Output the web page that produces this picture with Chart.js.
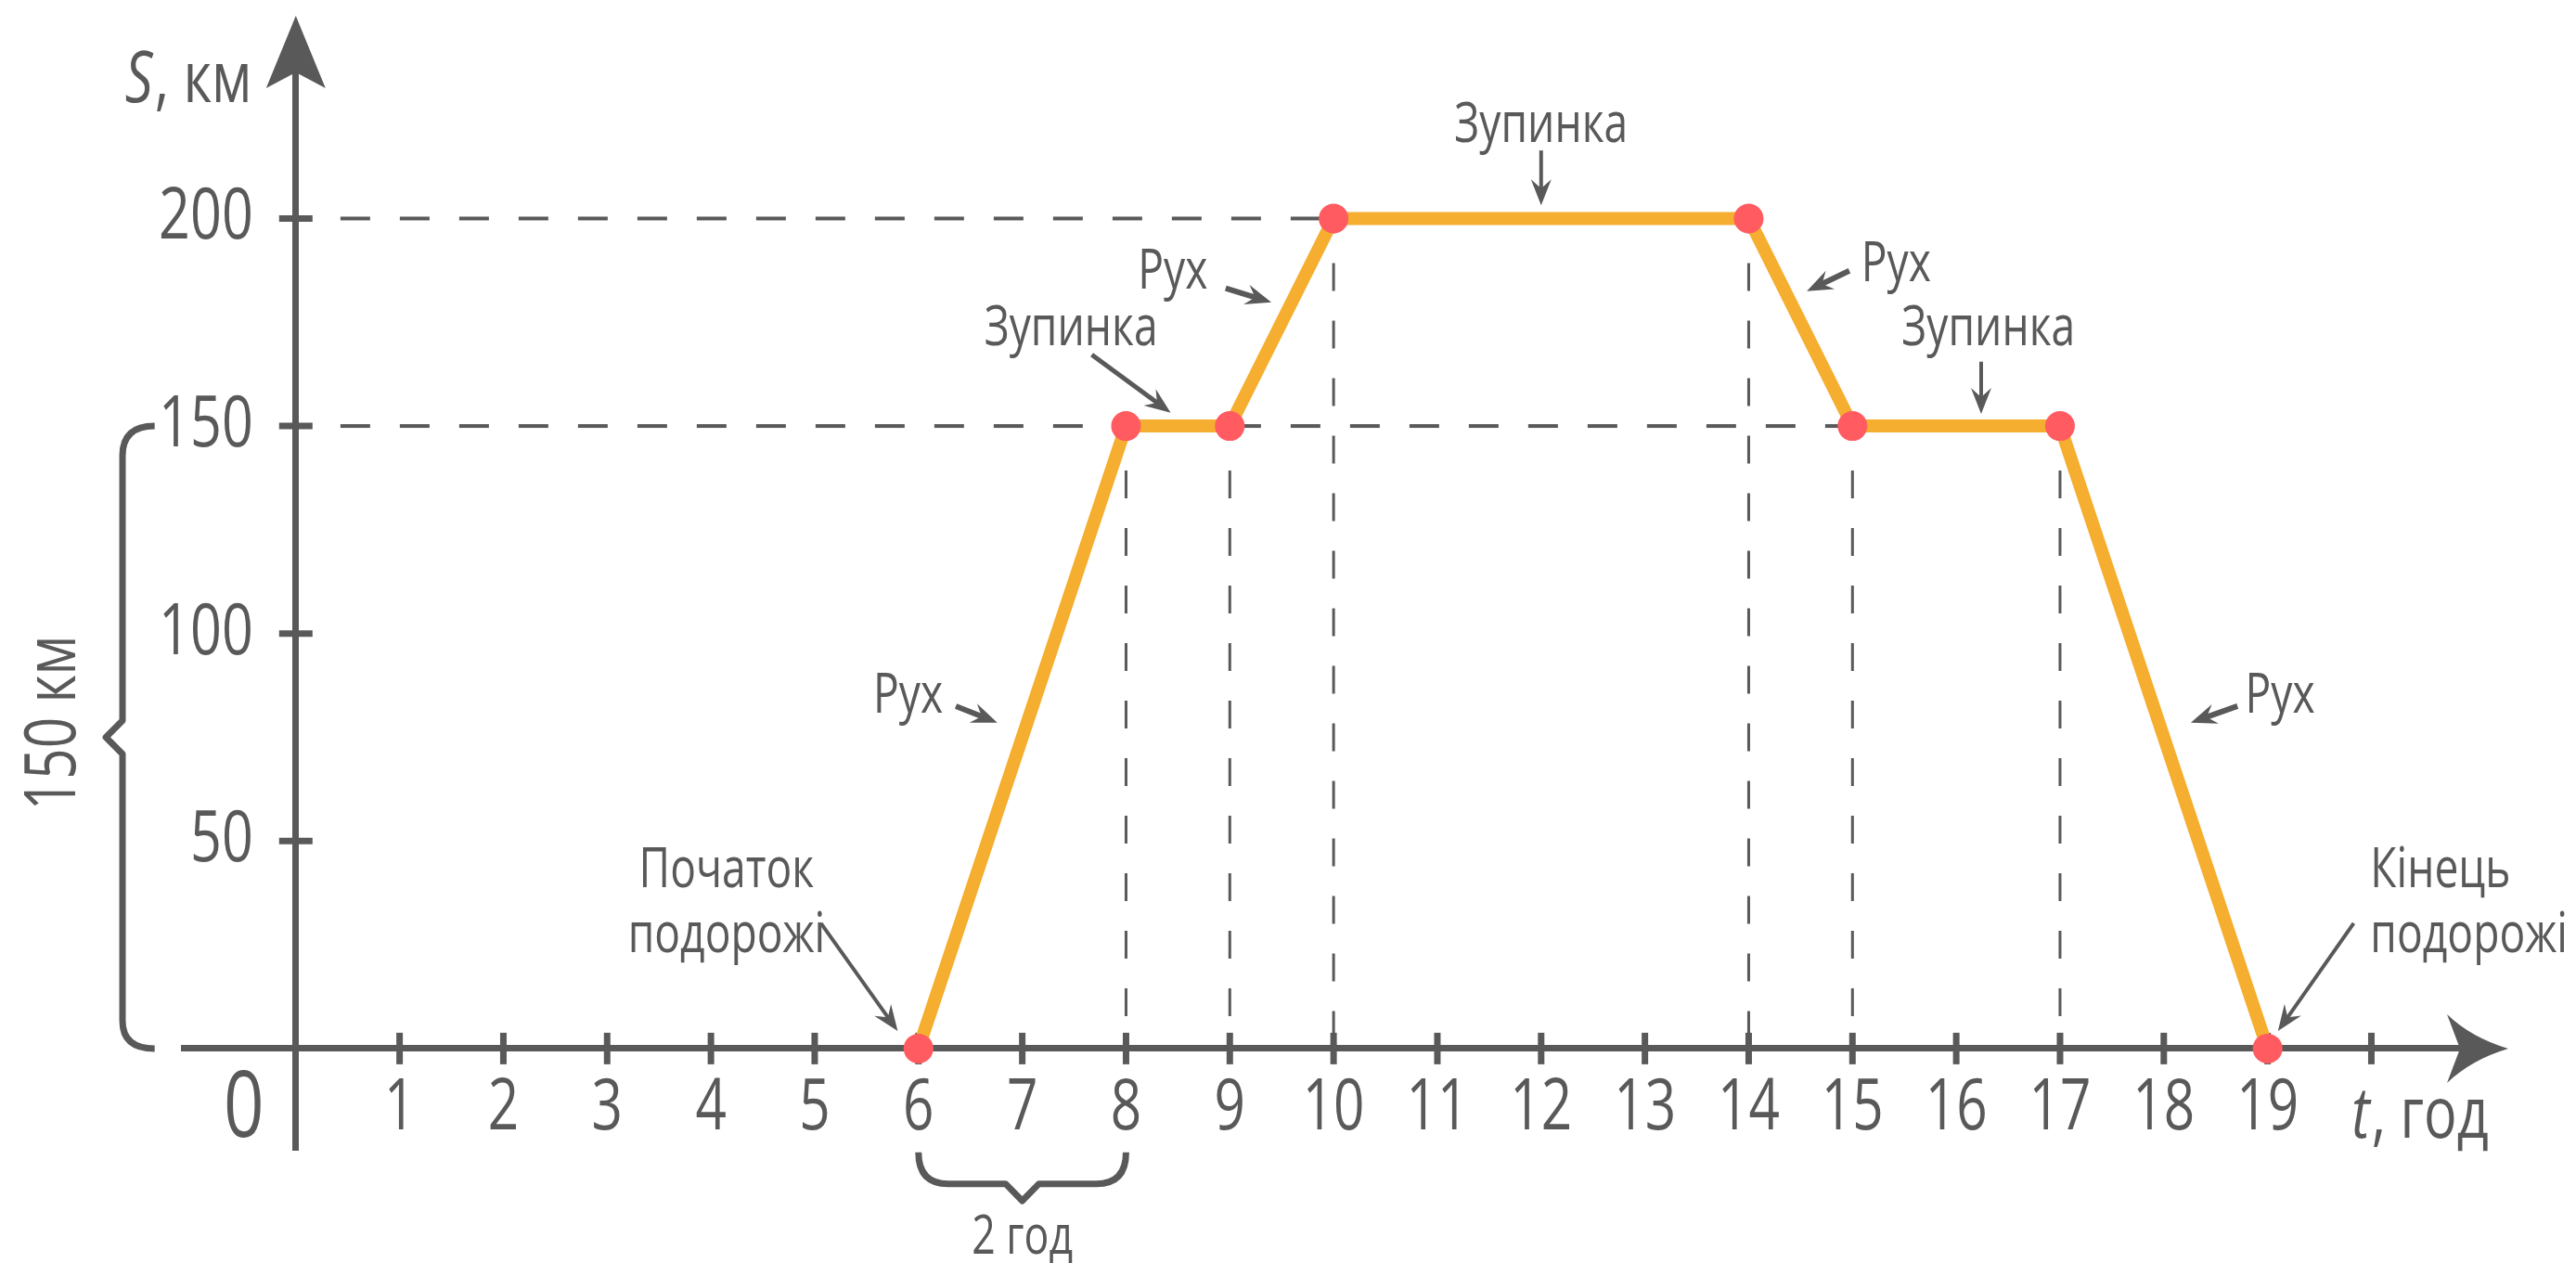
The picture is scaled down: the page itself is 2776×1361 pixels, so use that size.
<!DOCTYPE html>
<html>
<head>
<meta charset="utf-8">
<script src="https://cdn.jsdelivr.net/npm/chart.js@4.4.1/dist/chart.umd.min.js"></script>
<style>
  html, body { margin: 0; padding: 0; background: #fff; overflow: hidden; }
  #wrap { width: 2776px; height: 1361px; }
</style>
</head>
<body>
<div id="wrap"><canvas id="tripChart"></canvas></div>
<script>
// trip data: time (h) and distance (km)
const tripHours = [6, 8, 9, 10, 14, 15, 17, 19];
const tripKm = [0, 150, 150, 200, 200, 150, 150, 0];

// axis ticks
const xTicks = [1, 2, 3, 4, 5, 6, 7, 8, 9, 10, 11, 12, 13, 14, 15, 16, 17, 18, 19, 20];
const yTicks = [50, 100, 150, 200];

// dashed guides
const levelKm = [200, 150];
const levelEndHour = [10, 15];
const guideHours = [8, 9, 10, 14, 15, 17];
const guideKm = [150, 150, 200, 200, 150, 150];

const GRAY = "#595959";
const ORANGE = "#f5ae2f";
const RED = "#ff5b60";
const FONT = "'Open Sans', 'DejaVu Sans', sans-serif";
const NARROW = 0.77; // the original lettering is a condensed face

// labels and pointer arrows, placed in data units
const notes = [
  { lines: ["Зупинка"], x: 12, y: 218.5, align: "center" },
  { lines: ["Рух"], x: 8.45, y: 183, align: "center" },
  { lines: ["Зупинка"], x: 7.47, y: 169.5, align: "center" },
  { lines: ["Рух"], x: 15.42, y: 185, align: "center" },
  { lines: ["Зупинка"], x: 16.31, y: 169.5, align: "center" },
  { lines: ["Рух"], x: 5.9, y: 81, align: "center" },
  { lines: ["Рух"], x: 19.12, y: 81, align: "center" },
  { lines: ["Початок", "подорожі"], x: 4.15, y: 38.9, align: "center" },
  { lines: ["Кінець", "подорожі"], x: 19.99, y: 38.9, align: "left" }
];
const pointers = [
  [12, 216.4, 12, 203.2, 4],
  [8.96, 183.2, 9.4, 179.8, 6],
  [7.67, 167.2, 8.43, 153.2, 5],
  [14.97, 187.4, 14.56, 182.5, 6],
  [16.24, 165.5, 16.24, 152.9, 4],
  [6.36, 82.5, 6.76, 78.5, 6],
  [18.71, 82.5, 18.26, 78.5, 6],
  [5.06, 30.2, 5.8, 4.2, 4],
  [19.83, 30.2, 19.1, 4.2, 4]
];

function narrowText(ctx, s, x, y, size, align, style) {
  ctx.save();
  ctx.font = (style || "") + " " + size + "px " + FONT;
  ctx.textAlign = align;
  ctx.translate(x, y);
  ctx.scale(NARROW, 1);
  ctx.fillText(s, 0, 0);
  ctx.restore();
}

function narrowWidth(ctx, s, size, style) {
  ctx.font = (style || "") + " " + size + "px " + FONT;
  return ctx.measureText(s).width * NARROW;
}

function arrow(ctx, x1, y1, x2, y2, w, len, half) {
  const a = Math.atan2(y2 - y1, x2 - x1);
  const c = Math.cos(a), s = Math.sin(a);
  ctx.save();
  ctx.strokeStyle = GRAY;
  ctx.fillStyle = GRAY;
  ctx.lineWidth = w;
  ctx.beginPath();
  ctx.moveTo(x1, y1);
  ctx.lineTo(x2 - c * len * 0.6, y2 - s * len * 0.6);
  ctx.stroke();
  ctx.beginPath();
  ctx.moveTo(x2, y2);
  ctx.lineTo(x2 - c * len - s * half, y2 - s * len + c * half);
  ctx.lineTo(x2 - c * len * 0.65, y2 - s * len * 0.65);
  ctx.lineTo(x2 - c * len + s * half, y2 - s * len - c * half);
  ctx.closePath();
  ctx.fill();
  ctx.restore();
}

// axis title with an italic first letter
function axisTitle(ctx, sym, rest, x, y, size, align) {
  const w1 = narrowWidth(ctx, sym, size, "italic");
  const w2 = narrowWidth(ctx, rest, size);
  const left = align === "right" ? x - w1 - w2 : x;
  narrowText(ctx, sym, left, y, size, "left", "italic");
  narrowText(ctx, rest, left + w1 + 2, y, size, "left");
}

const decor = {
  id: "decor",
  // tick marks and tick labels go under the line and its points
  beforeDatasetsDraw(chart) {
    const ctx = chart.ctx;
    const xs = chart.scales.x, ys = chart.scales.y;
    const x0 = xs.getPixelForValue(0), y0 = ys.getPixelForValue(0);
    ctx.save();
    ctx.strokeStyle = GRAY;
    ctx.fillStyle = GRAY;
    ctx.lineWidth = 7;
    xs.ticks.forEach(t => {
      const x = xs.getPixelForValue(t.value);
      ctx.beginPath();
      ctx.moveTo(x, y0 - 17);
      ctx.lineTo(x, y0 + 17);
      ctx.stroke();
      if (t.value < 20) narrowText(ctx, String(t.value), x, y0 + 87, 76, "center");
    });
    ys.ticks.forEach(t => {
      const y = ys.getPixelForValue(t.value);
      ctx.beginPath();
      ctx.moveTo(x0 - 18, y);
      ctx.lineTo(x0 + 18, y);
      ctx.stroke();
      narrowText(ctx, String(t.value), x0 - 46, y + 22, 77, "right");
    });
    narrowText(ctx, "0", xs.getPixelForValue(-0.5), ys.getPixelForValue(-21.2), 99, "center");
    ctx.restore();
  },
  afterDraw(chart) {
    const ctx = chart.ctx;
    const xs = chart.scales.x, ys = chart.scales.y;
    const px = v => xs.getPixelForValue(v);
    const py = v => ys.getPixelForValue(v);
    const x0 = px(0), y0 = py(0);
    ctx.save();
    ctx.strokeStyle = GRAY;
    ctx.fillStyle = GRAY;
    ctx.lineCap = "butt";

    // y arrow head
    const top = chart.chartArea.top;
    ctx.beginPath();
    ctx.moveTo(x0, top - 53);
    ctx.lineTo(x0 + 32, top + 25);
    ctx.lineTo(x0, top + 8);
    ctx.lineTo(x0 - 32, top + 25);
    ctx.closePath();
    ctx.fill();

    // x arrow head
    const right = chart.chartArea.right;
    ctx.beginPath();
    ctx.moveTo(right + 48, y0);
    ctx.quadraticCurveTo(right + 8, y0 - 12, right - 18, y0 - 37);
    ctx.lineTo(right - 4, y0);
    ctx.lineTo(right - 18, y0 + 37);
    ctx.quadraticCurveTo(right + 8, y0 + 12, right + 48, y0);
    ctx.closePath();
    ctx.fill();

    // left brace: 150 km
    ctx.lineWidth = 7;
    ctx.lineJoin = "round";
    const bx = px(-1.67), bEnd = px(-1.36), bTip = px(-1.83);
    const bt = py(150), bb = py(0), bm = py(75);
    ctx.beginPath();
    ctx.moveTo(bEnd, bt);
    ctx.quadraticCurveTo(bx, bt, bx, bt + 32);
    ctx.lineTo(bx, bm - 18);
    ctx.lineTo(bTip, bm);
    ctx.lineTo(bx, bm + 18);
    ctx.lineTo(bx, bb - 30);
    ctx.quadraticCurveTo(bx, bb, bEnd, bb);
    ctx.stroke();

    // bottom brace: 2 h
    const l = px(6), r = px(8), m = px(7);
    const t = py(-25), h = py(-32.6), tip = py(-36.7);
    ctx.beginPath();
    ctx.moveTo(l, t);
    ctx.quadraticCurveTo(l, h, l + 32, h);
    ctx.lineTo(m - 18, h);
    ctx.lineTo(m, tip);
    ctx.lineTo(m + 18, h);
    ctx.lineTo(r - 32, h);
    ctx.quadraticCurveTo(r, h, r, t);
    ctx.stroke();
    narrowText(ctx, "2 год", m, py(-49.4), 58, "center");

    // annotations
    notes.forEach(n => {
      n.lines.forEach((s, i) => narrowText(ctx, s, px(n.x), py(n.y) + i * 70, 60, n.align));
    });
    pointers.forEach(p => arrow(ctx, px(p[0]), py(p[1]), px(p[2]), py(p[3]), p[4], 28, 11));

    axisTitle(ctx, "S", ", км", px(-0.44), py(228), 77, "right");
    axisTitle(ctx, "t", ", год", px(19.81), py(-21.5), 77, "left");

    ctx.save();
    ctx.translate(px(-2.32), py(78.5));
    ctx.rotate(-Math.PI / 2);
    ctx.textBaseline = "middle";
    narrowText(ctx, "150 км", 0, 0, 76, "center");
    ctx.restore();

    ctx.restore();
  }
};

const dashed = {
  borderColor: GRAY,
  borderWidth: 4,
  borderDash: [32, 32],
  pointRadius: 0,
  fill: false,
  order: 2
};

const datasets = [
  {
    data: tripHours.map((h, i) => ({ x: h, y: tripKm[i] })),
    borderColor: ORANGE,
    borderWidth: 14,
    pointRadius: 16,
    pointBackgroundColor: RED,
    pointBorderWidth: 0,
    tension: 0,
    fill: false,
    order: 0
  }
];
levelKm.forEach((k, i) => {
  datasets.push(Object.assign({}, dashed, {
    data: [{ x: 0.43, y: k }, { x: levelEndHour[i], y: k }]
  }));
});
guideHours.forEach((hr, i) => {
  datasets.push(Object.assign({}, dashed, {
    borderWidth: 3,
    borderDash: [30, 32],
    borderDashOffset: 14,
    data: [{ x: hr, y: guideKm[i] }, { x: hr, y: 0 }]
  }));
});

document.addEventListener("DOMContentLoaded", function() {
  const ctx = document.getElementById("tripChart").getContext("2d");
  new Chart(ctx, {
    type: "line",
    data: { datasets: datasets },
    options: {
      responsive: true,
      maintainAspectRatio: false,
      animation: false,
      layout: { padding: { left: 198, right: 121, top: 70, bottom: 122 } },
      plugins: { legend: { display: false }, tooltip: { enabled: false } },
      scales: {
        x: {
          type: "linear",
          position: { y: 0 },
          min: -1.08,
          max: 20.89,
          afterBuildTicks: axis => { axis.ticks = xTicks.map(v => ({ value: v })); },
          grid: { display: false, drawTicks: false },
          border: { display: true, color: GRAY, width: 7 },
          ticks: { display: false }
        },
        y: {
          type: "linear",
          position: { x: 0 },
          min: -24.4,
          max: 237,
          afterBuildTicks: axis => { axis.ticks = yTicks.map(v => ({ value: v })); },
          grid: { display: false, drawTicks: false },
          border: { display: true, color: GRAY, width: 7 },
          ticks: { display: false }
        }
      }
    },
    plugins: [decor]
  });
});
</script>
</body>
</html>
